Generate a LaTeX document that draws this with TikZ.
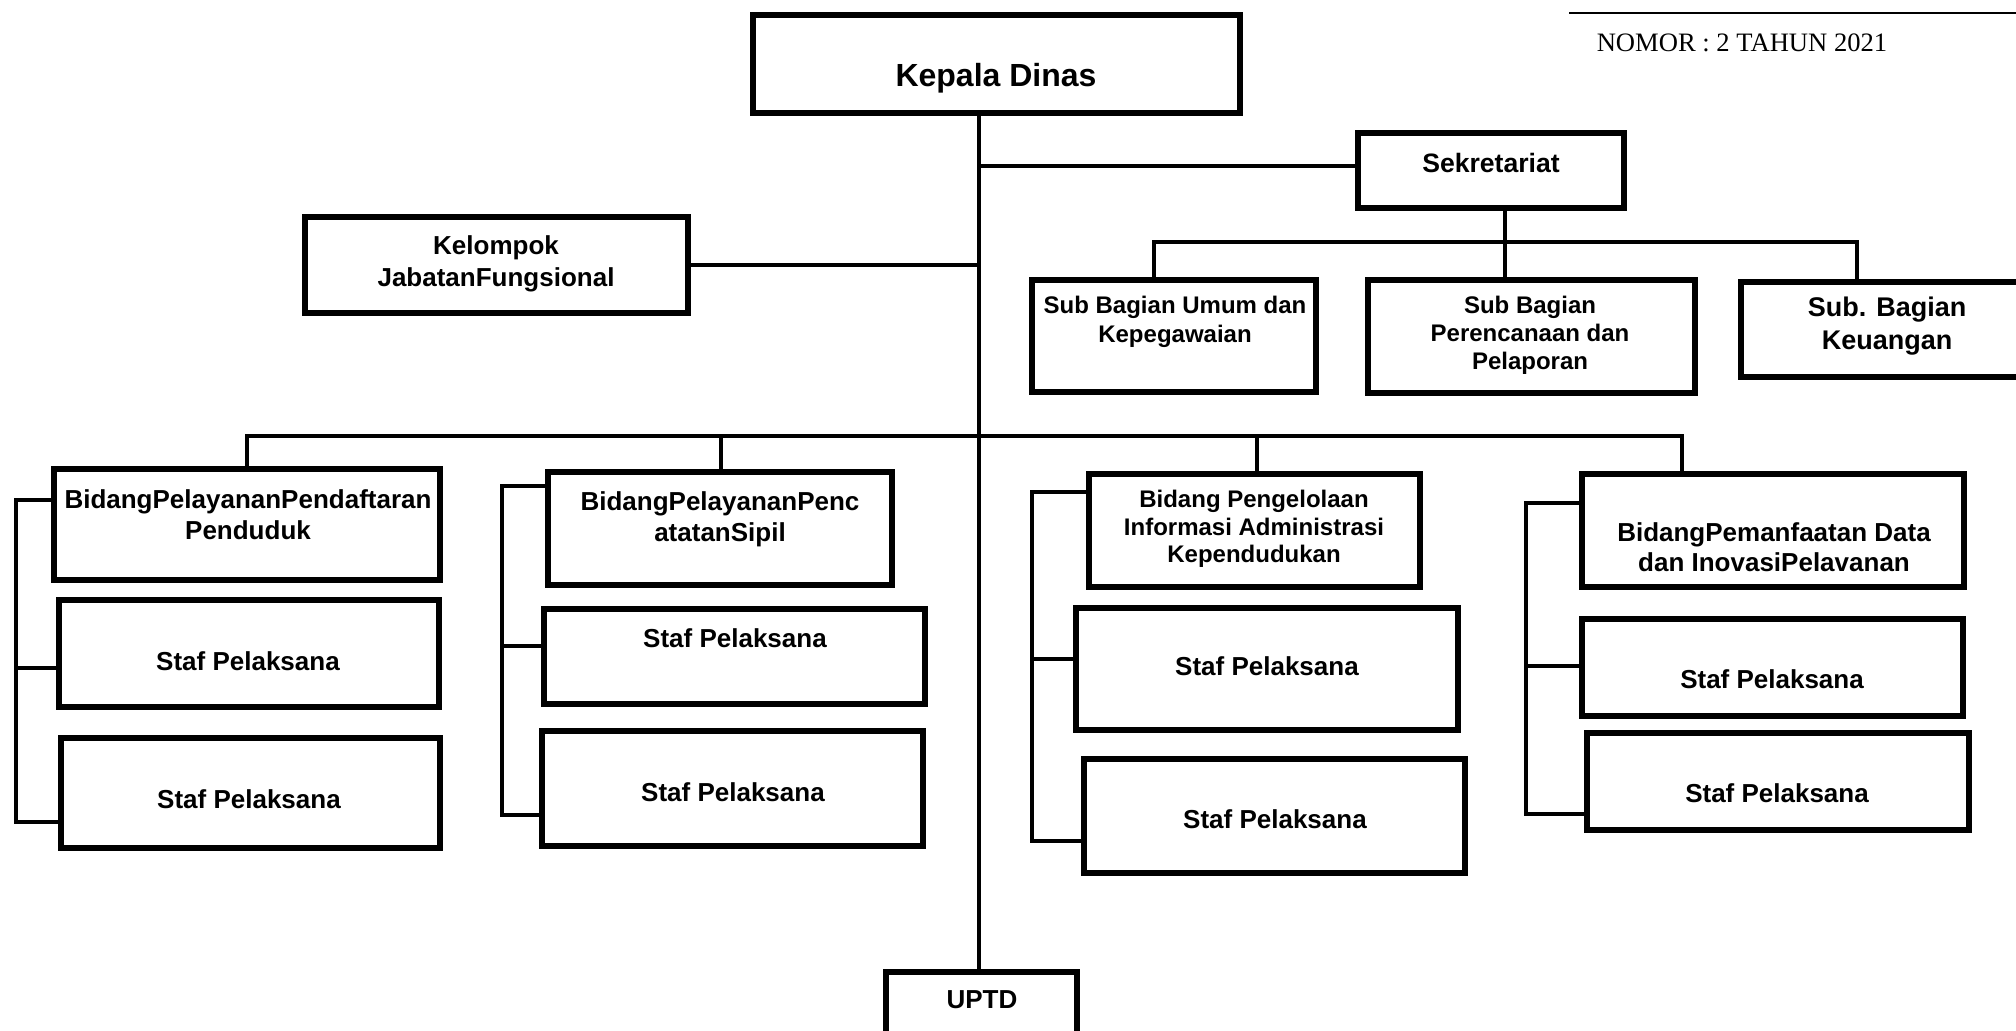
\documentclass[tikz,border=0pt]{standalone}
\usepackage{fontspec}
\setmainfont{Liberation Sans}
\newfontfamily\nomorfont{Liberation Serif}
\usetikzlibrary{fit}
\tikzset{
  box/.style={draw=black, line width=3pt, inner sep=0pt, fill=white},
  conn/.style={draw=black, line width=1.8pt},
  txt/.style={align=center, inner sep=0pt, font=\bfseries\fontsize{13}{15.5}\selectfont},
  txts/.style={align=center, inner sep=0pt, font=\bfseries\fontsize{12}{14}\selectfont},
}
\begin{document}
\begin{tikzpicture}[x=0.5pt,y=-0.5pt]
\clip (0,0) rectangle (2016,1030);
\fill[white] (0,0) rectangle (2016,1030);

% header
\coordinate (hl1) at (1569,13);
\coordinate (hl2) at (2016,13);
\draw[line width=1.4pt] (hl1) -- (hl2);
\node[inner sep=0pt, font=\nomorfont\fontsize{13.3}{16}\selectfont] (nomor) at (1742,43) {NOMOR : 2 TAHUN 2021};

% boxes
\node[box, fit={(753,15)(1240,113)}] (kd) {};
\node[box, fit={(1358,133)(1624,208)}] (sek) {};
\node[box, fit={(305,217)(688,313)}] (kjf) {};
\node[box, fit={(1032,280)(1316,392)}] (sub1) {};
\node[box, fit={(1368,280)(1695,393)}] (sub2) {};
\node[box, fit={(1741,282)(2040,377)}] (sub3) {};

\node[box, fit={(54,469)(440,580)}] (b1) {};
\node[box, fit={(59,600)(439,707)}] (s11) {};
\node[box, fit={(61,738)(440,848)}] (s12) {};

\node[box, fit={(548,472)(892,585)}] (b2) {};
\node[box, fit={(544,609)(925,704)}] (s21) {};
\node[box, fit={(542,731)(923,846)}] (s22) {};

\node[box, fit={(1089,474)(1420,587)}] (b3) {};
\node[box, fit={(1076,608)(1458,730)}] (s31) {};
\node[box, fit={(1084,759)(1465,873)}] (s32) {};

\node[box, fit={(1582,474)(1964,587)}] (b4) {};
\node[box, fit={(1582,619)(1963,716)}] (s41) {};
\node[box, fit={(1587,733)(1969,830)}] (s42) {};

\node[box, fit={(886,972)(1077,1045)}] (uptd) {};

% spine
\coordinate (sp) at (979,0);
\draw[conn] (kd.south -| sp) -- (uptd.north -| sp);

% sekretariat
\coordinate (jsek) at (979,166);
\draw[conn] (jsek) -- (jsek -| sek.west);
\coordinate (sb1) at (1154,242);
\coordinate (sb2) at (1505,242);
\coordinate (sb3) at (1857,242);
\draw[conn] (sb1 |- sub1.north) -- (sb1) -- (sb3) -- (sb3 |- sub3.north);
\draw[conn] (sb2 |- sek.south) -- (sb2 |- sub2.north);

% kelompok
\draw[conn] (kjf.east) -- (kjf.east -| sp);

% main bus
\coordinate (mb1) at (247,436);
\coordinate (mb2) at (721,436);
\coordinate (mb3) at (1257,436);
\coordinate (mb4) at (1682,436);
\draw[conn] (mb1 |- b1.north) -- (mb1) -- (mb4) -- (mb4 |- b4.north);
\draw[conn] (mb2) -- (mb2 |- b2.north);
\draw[conn] (mb3) -- (mb3 |- b3.north);

% brackets
\coordinate (k11) at (16,500);
\coordinate (k12) at (16,668);
\coordinate (k13) at (16,822);
\draw[conn] (k11 -| b1.west) -- (k11) -- (k13) -- (k13 -| s12.west);
\draw[conn] (k12) -- (k12 -| s11.west);

\coordinate (k21) at (502,486);
\coordinate (k22) at (502,646);
\coordinate (k23) at (502,815);
\draw[conn] (k21 -| b2.west) -- (k21) -- (k23) -- (k23 -| s22.west);
\draw[conn] (k22) -- (k22 -| s21.west);

\coordinate (k31) at (1032,492);
\coordinate (k32) at (1032,659);
\coordinate (k33) at (1032,841);
\draw[conn] (k31 -| b3.west) -- (k31) -- (k33) -- (k33 -| s32.west);
\draw[conn] (k32) -- (k32 -| s31.west);

\coordinate (k41) at (1526,503);
\coordinate (k42) at (1526,666);
\coordinate (k43) at (1526,814);
\draw[conn] (k41 -| b4.west) -- (k41) -- (k43) -- (k43 -| s42.west);
\draw[conn] (k42) -- (k42 -| s41.west);

% texts
\node[txt, font=\bfseries\fontsize{16}{19}\selectfont] (kdt) at (996,78) {Kepala Dinas};
\node[txt, font=\bfseries\fontsize{13.3}{16}\selectfont] (sekt) at (1491,163) {Sekretariat};
\node[txt, font=\bfseries\fontsize{13}{16}\selectfont] (kjft) at (496,264) {Kelompok\\JabatanFungsional};
\node[txts, font=\bfseries\fontsize{12}{14.5}\selectfont] (sub1t) at (1175,322) {Sub Bagian Umum dan\\Kepegawaian};
\node[txts] (sub2t) at (1530,335) {Sub Bagian\\Perencanaan dan\\Pelaporan};
\node[txt, font=\bfseries\fontsize{13.5}{16.5}\selectfont] (sub3t) at (1887,326) {Sub. Bagian\\Keuangan};

\node[txt] (b1t) at (248,515) {BidangPelayananPendaftaran\\Penduduk};
\node[txt] (b2t) at (720,519) {BidangPelayananPenc\\atatanSipil};
\node[txts, font=\bfseries\fontsize{12}{13.75}\selectfont] (b3t) at (1254,529) {Bidang Pengelolaan\\Informasi Administrasi\\Kependudukan};
\node[txt, font=\bfseries\fontsize{13}{15}\selectfont] (b4t) at (1774,547) {BidangPemanfaatan Data\\dan InovasiPelavanan};

\node[txt] (s11t) at (248,661) {Staf Pelaksana};
\node[txt] (s12t) at (249,799) {Staf Pelaksana};
\node[txt] (s21t) at (735,638) {Staf Pelaksana};
\node[txt] (s22t) at (733,792) {Staf Pelaksana};
\node[txt] (s31t) at (1267,666) {Staf Pelaksana};
\node[txt] (s32t) at (1275,819) {Staf Pelaksana};
\node[txt] (s41t) at (1772,679) {Staf Pelaksana};
\node[txt] (s42t) at (1777,793) {Staf Pelaksana};

\node[txt] (uptdt) at (982,1000) {UPTD};
\end{tikzpicture}
\end{document}
